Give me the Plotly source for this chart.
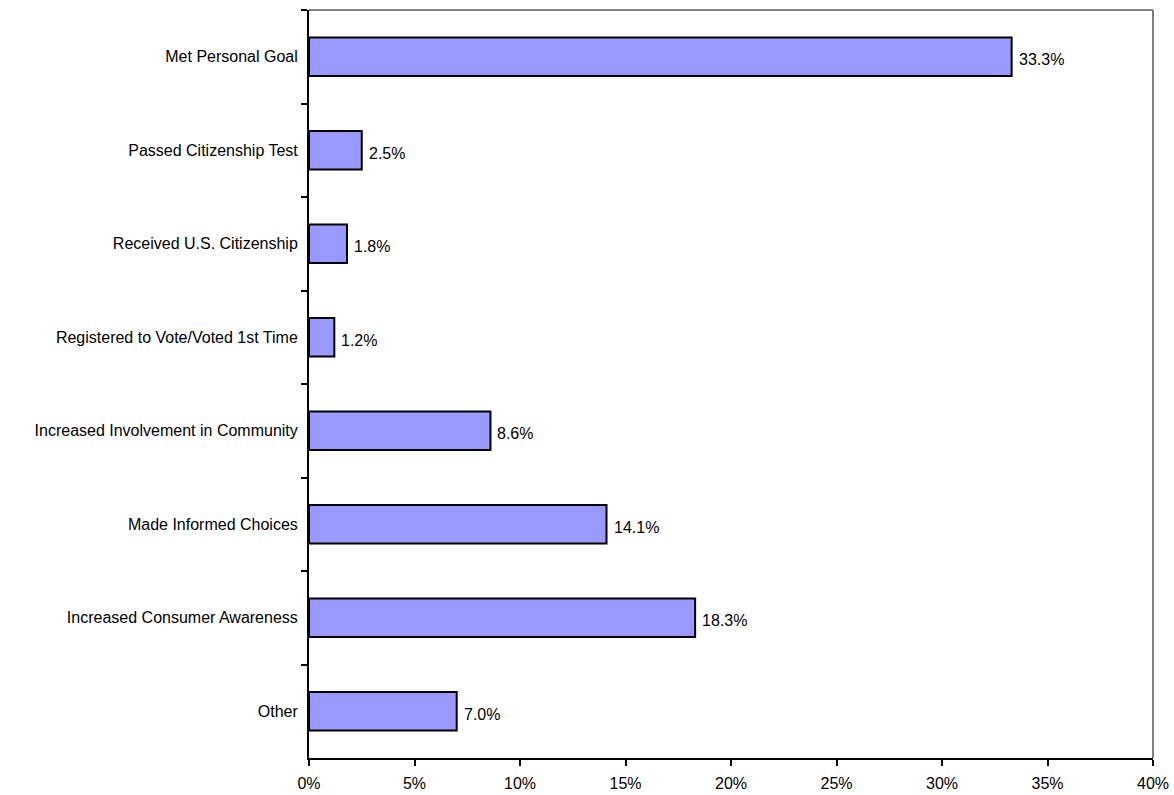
import plotly.graph_objects as go

categories = [
    "Met Personal Goal",
    "Passed Citizenship Test",
    "Received U.S. Citizenship",
    "Registered to Vote/Voted 1st Time",
    "Increased Involvement in Community",
    "Made Informed Choices",
    "Increased Consumer Awareness",
    "Other",
]
values = [33.3, 2.5, 1.8, 1.2, 8.6, 14.1, 18.3, 7.0]
x_ticks = [0, 5, 10, 15, 20, 25, 30, 35, 40]
x_tick_labels = [f"{v}%" for v in x_ticks]

font = dict(family="Liberation Sans, Arial, sans-serif", size=16, color="black")

fig = go.Figure(
    go.Bar(
        y=categories,
        x=values,
        orientation="h",
        marker=dict(color="#9999FF", line=dict(color="black", width=2)),
        width=0.41,
        hoverinfo="x+y",
    )
)

annotations = [
    dict(x=v, y=c, xref="x", yref="y", text=f"{v:.1f}%", showarrow=False,
         xanchor="left", yanchor="middle", xshift=5, yshift=-3, font=font)
    for c, v in zip(categories, values)
]

fig.update_layout(
    width=1174,
    height=795,
    margin=dict(l=309, r=21, t=10, b=37),
    plot_bgcolor="white",
    paper_bgcolor="white",
    font=font,
    showlegend=False,
    annotations=annotations,
    xaxis=dict(
        range=[0, 40],
        tickvals=x_ticks,
        ticktext=x_tick_labels,
        showgrid=False,
        zeroline=False,
        showline=True,
        linecolor="black",
        linewidth=2,
        ticks="outside",
        ticklen=6,
        tickwidth=2,
        tickcolor="black",
        ticklabelstandoff=4,
        automargin=False,
    ),
    yaxis=dict(
        autorange="reversed",
        showgrid=False,
        showline=True,
        linecolor="black",
        linewidth=2,
        ticks="outside",
        tickson="boundaries",
        ticklen=6,
        tickwidth=2,
        tickcolor="black",
        ticklabelstandoff=6,
        automargin=False,
    ),
    shapes=[
        dict(type="line", xref="paper", yref="paper", x0=0, x1=1, y0=1, y1=1,
             line=dict(color="#808080", width=2)),
        dict(type="line", xref="paper", yref="paper", x0=1, x1=1, y0=0, y1=1,
             line=dict(color="#808080", width=2)),
    ],
)

fig.write_html("out.html")
